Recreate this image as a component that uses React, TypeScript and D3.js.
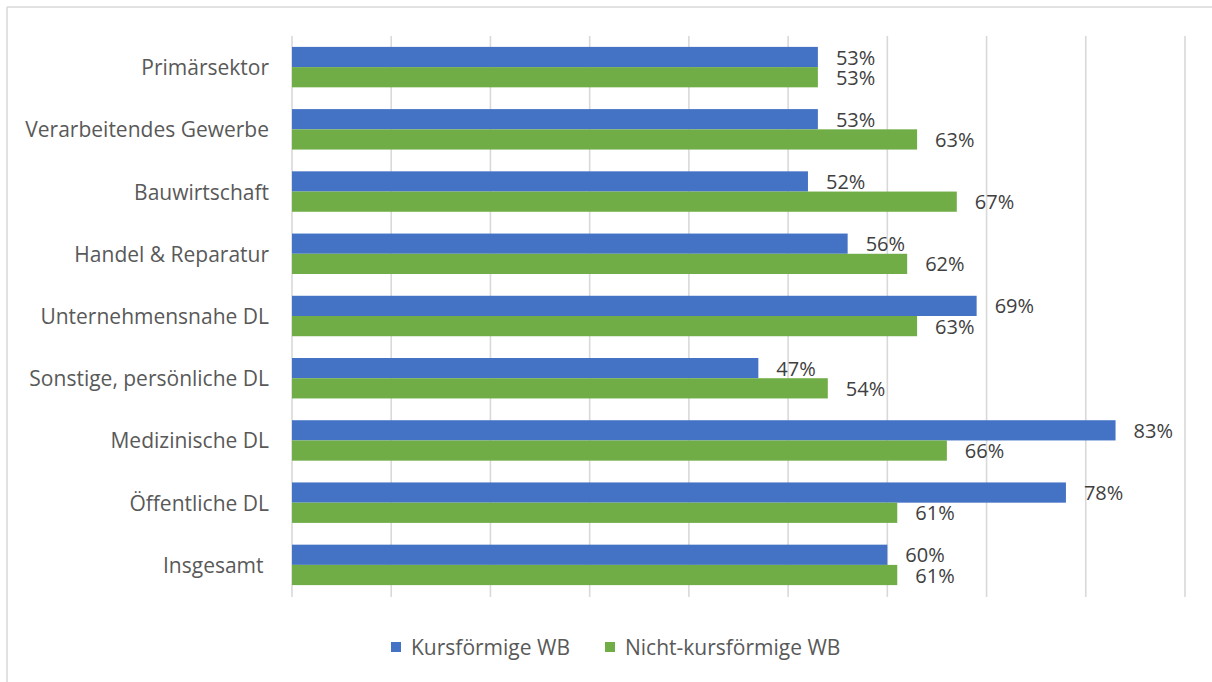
import React from "react";
import * as d3 from "d3";

const categories = [
  "Primärsektor",
  "Verarbeitendes Gewerbe",
  "Bauwirtschaft",
  "Handel & Reparatur",
  "Unternehmensnahe DL",
  "Sonstige, persönliche DL",
  "Medizinische DL",
  "Öffentliche DL",
  "Insgesamt ",
];
const seriesNames = ["Kursförmige WB", "Nicht-kursförmige WB"];
const kursfoermig = [53, 53, 52, 56, 69, 47, 83, 78, 60];
const nichtKursfoermig = [53, 63, 67, 62, 63, 54, 66, 61, 61];
const xTicks = [0, 10, 20, 30, 40, 50, 60, 70, 80, 90];
const colors = ["#4472C4", "#70AD47"];

const W = 1212;
const H = 682;
const FONT = "'Open Sans', 'DejaVu Sans', sans-serif";

export default function App() {
  const x = d3.scaleLinear().domain([0, 90]).range([292, 1185]);
  const y = d3
    .scaleBand<string>()
    .domain(categories)
    .range([36, 596])
    .paddingInner(0.35)
    .paddingOuter(0.175);
  const sub = d3
    .scaleBand<number>()
    .domain([0, 1])
    .range([0, y.bandwidth()])
    .padding(0);
  const series = [kursfoermig, nichtKursfoermig];

  return (
    <div style={{ position: "fixed", left: 0, top: 0 }}>
      <svg width={W} height={H} style={{ display: "block", background: "#fff" }}>
        {/* chart frame */}
        <line x1={7} x2={W} y1={7} y2={7} stroke="#d9d9d9" strokeWidth={1.5} />
        <line x1={7} x2={7} y1={7} y2={H} stroke="#d9d9d9" strokeWidth={1.5} />
        {/* gridlines */}
        {xTicks.map((t) => (
          <line
            key={t}
            x1={x(t)}
            x2={x(t)}
            y1={36}
            y2={597}
            stroke="#d9d9d9"
            strokeWidth={1.6}
          />
        ))}
        {/* bars */}
        {categories.map((c, i) => (
          <g key={c}>
            {series.map((s, j) => (
              <rect
                key={j}
                x={x(0)}
                y={(y(c) ?? 0) + (sub(j) ?? 0)}
                width={x(s[i]) - x(0)}
                height={sub.bandwidth()}
                fill={colors[j]}
              />
            ))}
            {series.map((s, j) => (
              <text
                key={"l" + j}
                x={x(s[i]) + 18}
                y={(y(c) ?? 0) + (sub(j) ?? 0) + sub.bandwidth() / 2}
                dominantBaseline="central"
                fontFamily={FONT}
                fontSize={20}
                fill="#404040"
              >
                {s[i]}%
              </text>
            ))}
            <text
              x={269}
              y={(y(c) ?? 0) + y.bandwidth() / 2}
              textAnchor="end"
              dominantBaseline="central"
              fontFamily={FONT}
              fontSize={21}
              fill="#595959"
              style={{ whiteSpace: "pre" }}
            >
              {c}
            </text>
          </g>
        ))}
        {/* legend */}
        {seriesNames.map((n, j) => {
          const lx = j === 0 ? 391 : 605;
          return (
            <g key={n}>
              <rect x={lx} y={642} width={10} height={10} fill={colors[j]} />
              <text
                x={lx + 20}
                y={647}
                dominantBaseline="central"
                fontFamily={FONT}
                fontSize={21}
                fill="#595959"
              >
                {n}
              </text>
            </g>
          );
        })}
      </svg>
    </div>
  );
}
